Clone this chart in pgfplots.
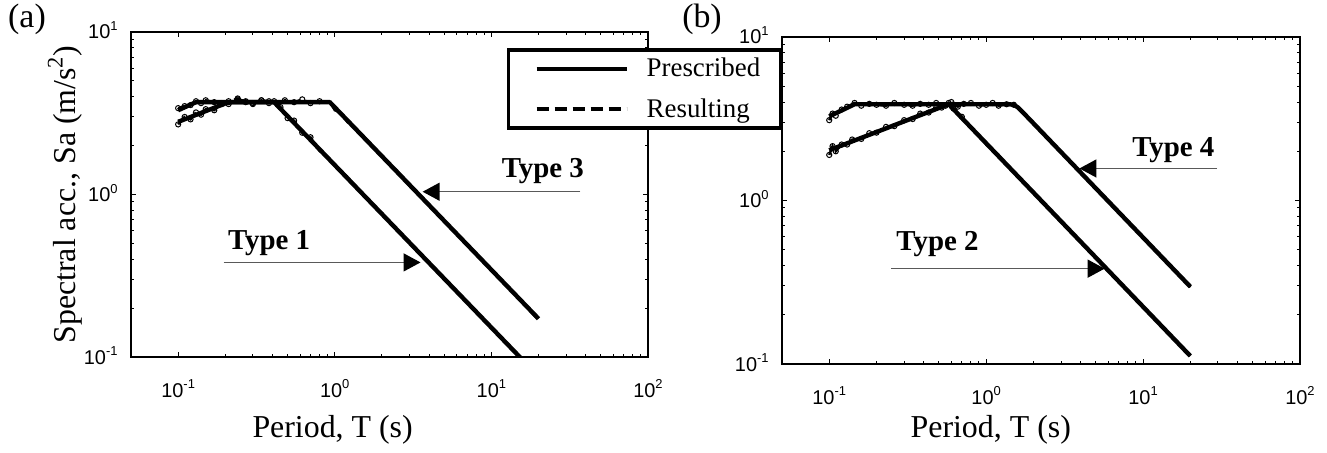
\documentclass[border=0pt]{standalone}
\usepackage{fontspec}
\setmainfont{Liberation Serif}
\newfontfamily\ticksf{Liberation Sans}
\usepackage{pgfplots}
\usepackage{pgfplotstable}
\pgfplotsset{compat=1.18}
\usetikzlibrary{arrows.meta}

\newcommand{\tl}[1]{10\raisebox{4.2bp}{\fontsize{6.5}{7}\selectfont #1}}
\newcommand{\typefont}{\fontsize{14.5}{17}\selectfont\bfseries}
\newcommand{\labfont}{\fontsize{16}{19}\selectfont}

% ---------- data ----------
\pgfplotstableread{
T Sa
0.1 2.8
0.21 3.7
0.41 3.7
20 0.0759
}\presA
\pgfplotstableread{
T Sa
0.1 3.3
0.13 3.7
0.93 3.7
20 0.172
}\presC
\pgfplotstableread{
T Sa
0.1 2.7
0.11 3.0
0.12 2.9
0.13 3.2
0.14 3.1
0.15 3.35
0.17 3.3
0.19 3.65
0.21 3.6
0.24 3.85
0.27 3.75
0.3 3.6
0.34 3.8
0.38 3.65
0.41 3.75
0.45 3.45
0.5 2.95
0.55 2.85
0.62 2.4
0.7 2.25
0.8 1.85
0.9 1.72
1.0 1.5
1.2 1.29
1.5 1.0
2 0.77
3 0.5
5 0.307
8 0.188
12 0.128
20 0.076
}\resA
\pgfplotstableread{
T Sa
0.1 3.4
0.11 3.5
0.12 3.55
0.13 3.75
0.14 3.65
0.15 3.8
0.17 3.7
0.19 3.6
0.21 3.75
0.24 3.9
0.27 3.7
0.3 3.65
0.34 3.8
0.38 3.75
0.43 3.6
0.48 3.8
0.55 3.7
0.62 3.85
0.7 3.65
0.8 3.75
0.93 3.7
1.0 3.3
1.1 3.2
1.2 2.8
1.5 2.33
2 1.70
2.5 1.40
3 1.13
4 0.87
5 0.68
7 0.497
10 0.342
14 0.248
20 0.168
}\resC
\pgfplotstableread{
T Sa
0.1 2.03
0.577 3.88
20 0.112
}\presB
\pgfplotstableread{
T Sa
0.1 3.27
0.145 3.88
1.4 3.88
1.5 3.85
1.6 3.7
1.75 3.39
20 0.297
}\presD
\pgfplotstableread{
T Sa
0.1 1.9
0.105 2.15
0.11 2.0
0.12 2.2
0.13 2.2
0.14 2.36
0.16 2.38
0.18 2.58
0.2 2.6
0.23 2.82
0.26 2.85
0.3 3.1
0.34 3.15
0.38 3.4
0.43 3.45
0.48 3.7
0.52 3.7
0.577 3.95
0.62 3.65
0.7 3.25
0.8 2.75
0.9 2.5
1.0 2.2
1.2 1.9
1.5 1.48
2 1.13
3 0.74
5 0.452
8 0.278
12 0.188
20 0.111
}\resB
\pgfplotstableread{
T Sa
0.1 3.1
0.105 3.4
0.11 3.3
0.12 3.6
0.13 3.75
0.145 3.95
0.16 3.8
0.18 3.9
0.2 3.85
0.23 3.8
0.26 3.95
0.3 3.85
0.34 3.8
0.38 3.9
0.43 3.85
0.48 3.95
0.55 3.8
0.6 4.0
0.66 3.75
0.72 3.9
0.8 3.95
0.9 3.8
1.0 3.85
1.1 3.95
1.2 3.8
1.35 3.88
1.5 3.85
1.6 3.7
1.75 3.35
2 3.0
2.5 2.35
3 2.0
4 1.47
5 1.2
7 0.84
10 0.6
14 0.42
20 0.295
}\resD

\tikzset{
  myres/.style={black, line width=1.2bp, dash pattern=on 5bp off 2.5bp},
  mypres/.style={black, line width=2.2bp, line join=round},
  myarr/.style={black!65, line width=0.7bp, -{Triangle[length=8.5bp,width=9bp,black]}},
}

\begin{document}
\begin{tikzpicture}
\useasboundingbox (0,0) rectangle (663.5bp,226.5bp);

\node[font=\fontsize{17}{20}\selectfont] at (13.5bp,217bp) {(a)};
\node[font=\fontsize{17}{20}\selectfont] at (351bp,217bp) {(b)};

% ---------------- (a) ----------------
\begin{axis}[
  xmode=log, ymode=log, scale only axis,
  xmin=0.05, xmax=100, ymin=0.1, ymax=10,
  xtick={0.1,1,10,100},
  xticklabels={\tl{-1},\tl{0},\tl{1},\tl{2}},
  ytick={0.1,1,10},
  yticklabels={\tl{-1},\tl{0},\tl{1}},
  axis line style={line width=0.6bp},
  major tick length=2.5bp, minor tick length=1.5bp,
  every tick/.style={black, line width=0.5bp},
  xticklabel style={font=\fontsize{10}{12}\selectfont\ticksf, anchor=base, yshift=-20bp},
  yticklabel style={font=\fontsize{10}{12}\selectfont\ticksf, anchor=base east, inner sep=0pt, xshift=-6.5bp, yshift=-3.5bp},
  at={(65.5bp,48bp)}, anchor=south west,
  width=258.5bp, height=162.5bp,
  xlabel={\labfont Period, T (s)},
  ylabel={\labfont Spectral acc., Sa (m/s\textsuperscript{2})},
  every axis x label/.style={at={(axis description cs:0.39,-0.249)}, anchor=base},
  every axis y label/.style={at={(axis description cs:-0.108,0.5)}, rotate=90, anchor=base},
  legend style={at={(axis description cs:0.727,0.951)}, anchor=north west,
    draw=black, line width=1.8bp, fill=white,
    font=\fontsize{13.5}{16}\selectfont,
    inner xsep=8bp, inner ysep=1.5bp, row sep=4.5bp,
    nodes={inner sep=2.5bp}},
  legend cell align=left,
  legend image code/.code={\draw[#1] (6bp,0bp) -- (51bp,0bp); \path[draw=none] (0bp,0bp) -- (58.5bp,0bp);},
]
\addlegendimage{black, line width=2bp, solid}
\addlegendentry{Prescribed}
\addlegendimage{black, line width=2bp, dash pattern=on 6bp off 3bp}
\addlegendentry{Resulting}

\addplot[myres, mark=o, mark size=1.3bp, mark options={solid, line width=0.5bp}, mark indices={1,2,3,4,5,6,7,8,9,10,11,12,13,14,15,16,17,18,19,20}, forget plot] table[x=T, y=Sa] {\resA};
\addplot[myres, mark=o, mark size=1.3bp, mark options={solid, line width=0.5bp}, mark indices={1,2,3,4,5,6,7,8,9,10,11,12,13,14,15,16,17,18,19,20}, forget plot] table[x=T, y=Sa] {\resC};
\addplot[mypres, no marks, forget plot] table[x=T, y=Sa] {\presA};
\addplot[mypres, no marks, forget plot] table[x=T, y=Sa] {\presC};

\draw[myarr] (axis cs:0.195,0.382) -- (axis cs:3.53,0.382);
\node[font=\typefont] at (axis cs:0.381,0.50) {Type 1};
\draw[myarr] (axis cs:37.0,1.04) -- (axis cs:3.64,1.04);
\node[font=\typefont] at (axis cs:21.3,1.385) {Type 3};
\end{axis}

% ---------------- (b) ----------------
\begin{axis}[
  xmode=log, ymode=log, scale only axis,
  xmin=0.05, xmax=100, ymin=0.1, ymax=10,
  xtick={0.1,1,10,100},
  xticklabels={\tl{-1},\tl{0},\tl{1},\tl{2}},
  ytick={0.1,1,10},
  yticklabels={\tl{-1},\tl{0},\tl{1}},
  axis line style={line width=0.6bp},
  major tick length=2.5bp, minor tick length=1.5bp,
  every tick/.style={black, line width=0.5bp},
  xticklabel style={font=\fontsize{10}{12}\selectfont\ticksf, anchor=base, yshift=-20bp},
  yticklabel style={font=\fontsize{10}{12}\selectfont\ticksf, anchor=base east, inner sep=0pt, xshift=-6.5bp, yshift=-3.5bp},
  at={(391bp,44.5bp)}, anchor=south west,
  width=259bp, height=163.5bp,
  xlabel={\labfont Period, T (s)},
  every axis x label/.style={at={(axis description cs:0.403,-0.226)}, anchor=base},
]
\addplot[myres, mark=o, mark size=1.3bp, mark options={solid, line width=0.5bp}, mark indices={1,2,3,4,5,6,7,8,9,10,11,12,13,14,15,16,17,18,19,20}] table[x=T, y=Sa] {\resB};
\addplot[myres, mark=o, mark size=1.3bp, mark options={solid, line width=0.5bp}, mark indices={1,2,3,4,5,6,7,8,9,10,11,12,13,14,15,16,17,18,19,20,21,22,23,24,25,26,27}] table[x=T, y=Sa] {\resD};
\addplot[mypres, no marks] table[x=T, y=Sa] {\presB};
\addplot[mypres, no marks] table[x=T, y=Sa] {\presD};

\draw[myarr] (axis cs:0.248,0.383) -- (axis cs:5.69,0.383);
\node[font=\typefont] at (axis cs:0.49,0.545) {Type 2};
\draw[myarr] (axis cs:29.6,1.57) -- (axis cs:3.93,1.57);
\node[font=\typefont] at (axis cs:15.6,2.03) {Type 4};
\end{axis}
\end{tikzpicture}
\end{document}
